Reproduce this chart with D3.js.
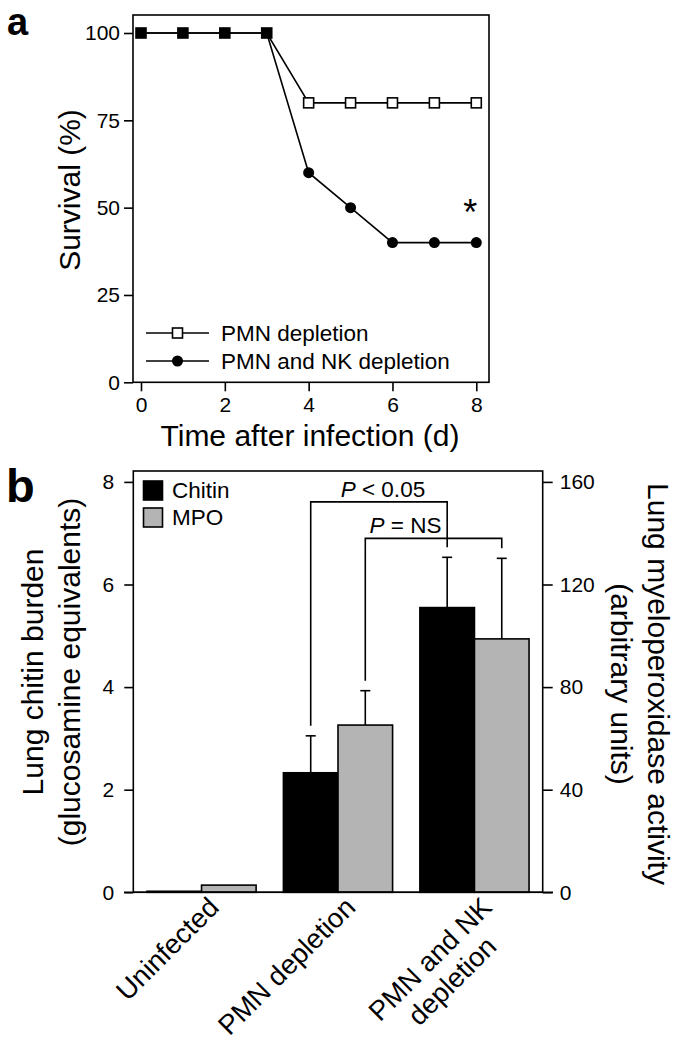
<!DOCTYPE html>
<html><head><meta charset="utf-8">
<script src="https://cdn.jsdelivr.net/npm/d3@7"></script>
<style>
body{margin:0;background:#fff;}
svg{display:block;font-family:"Liberation Sans",Arial,sans-serif;}
</style></head>
<body><svg id="c" width="700" height="1049"></svg>
<script>
// ---- Panel a data ----
const days = [0,1,2,3,4,5,6,7,8];
const pmnSurvival = [100,100,100,100,80,80,80,80,80];
const pmnNkSurvival = [100,100,100,100,60,50,40,40,40];
const survivalTicks = [0,25,50,75,100];
const dayTicks = [0,2,4,6,8];
const seriesA = ["PMN depletion","PMN and NK depletion"];

// ---- Panel b data ----
const groups = ["Uninfected","PMN depletion","PMN and NK\ndepletion"];
const measures = ["Chitin","MPO"];
const chitin = [0.02,2.33,5.55];
const chitinErr = [0,0.72,0.98];
const mpo = [2.8,65.2,98.8];
const mpoErr = [0,13.4,31.4];
const chitinTicks = [0,2,4,6,8];
const mpoTicks = [0,40,80,120,160];

const svg = d3.select("#c");
const SW = 1.6;
const TICKFS = 21, TITLEFS = 30, LEGFS = 22.5, CATFS = 27.5;

// ================= Panel a =================
const xa = d3.scaleLinear().domain([0,8]).range([141,476.3]);
const ya = d3.scaleLinear().domain([0,100]).range([382.3,33]);
const ga = svg.append("g");

ga.append("rect").attr("x",133).attr("y",15).attr("width",356).attr("height",382.3-15)
  .attr("fill","none").attr("stroke","#000").attr("stroke-width",SW);

const ayA = ga.append("g").attr("transform","translate(133,0)")
  .call(d3.axisLeft(ya).tickValues(survivalTicks).tickSize(9).tickPadding(4));
const axA = ga.append("g").attr("transform","translate(0,382.3)")
  .call(d3.axisBottom(xa).tickValues(dayTicks).tickSize(9).tickPadding(6));
[ayA,axA].forEach(a=>{
  a.select(".domain").remove();
  a.selectAll("line").attr("stroke","#000").attr("stroke-width",SW);
  a.selectAll("text").attr("font-size",TICKFS).attr("fill","#000").attr("font-family","Liberation Sans, Arial, sans-serif");
});

const line = d3.line().x((d,i)=>xa(days[i])).y(d=>ya(d));
ga.append("path").datum(pmnSurvival).attr("d",line).attr("fill","none").attr("stroke","#000").attr("stroke-width",SW);
ga.append("path").datum(pmnNkSurvival).attr("d",line).attr("fill","none").attr("stroke","#000").attr("stroke-width",SW);

const sq = 10;
ga.selectAll("rect.sq").data(pmnSurvival).join("rect").attr("class","sq")
  .attr("x",(d,i)=>xa(days[i])-sq/2).attr("y",d=>ya(d)-sq/2)
  .attr("width",sq).attr("height",sq)
  .attr("fill",(d,i)=> d===pmnNkSurvival[i] ? "#000" : "#fff")
  .attr("stroke","#000").attr("stroke-width",SW);
ga.selectAll("circle.ci").data(pmnNkSurvival).join("circle").attr("class","ci")
  .attr("cx",(d,i)=>xa(days[i])).attr("cy",d=>ya(d)).attr("r",5.5).attr("fill","#000");
ga.selectAll("circle.ci").filter((d,i)=>d===pmnSurvival[i]).remove();

// asterisk
ga.append("text").attr("x",xa(8)-6).attr("y",ya(pmnNkSurvival[8])-18)
  .attr("text-anchor","middle").attr("font-size",36).text("*");

// legend a
seriesA.forEach((s,i)=>{
  const y = 333 + i*28;
  ga.append("line").attr("x1",146).attr("x2",209).attr("y1",y).attr("y2",y).attr("stroke","#000").attr("stroke-width",SW);
  if(i===0){
    ga.append("rect").attr("x",177.5-sq/2).attr("y",y-sq/2).attr("width",sq).attr("height",sq)
      .attr("fill","#fff").attr("stroke","#000").attr("stroke-width",SW);
  } else {
    ga.append("circle").attr("cx",177.5).attr("cy",y).attr("r",5.5).attr("fill","#000");
  }
  ga.append("text").attr("x",221).attr("y",y).attr("dy","0.36em").attr("font-size",LEGFS).text(s);
});

// axis titles a
ga.append("text").attr("x",310).attr("y",446).attr("text-anchor","middle").attr("font-size",TITLEFS).text("Time after infection (d)");
ga.append("text").attr("transform","translate(80,190) rotate(-90)").attr("text-anchor","middle").attr("font-size",TITLEFS).text("Survival (%)");

// panel label a
svg.append("text").attr("x",7).attr("y",35).attr("font-size",38).attr("font-weight","bold")
  .attr("font-family","Liberation Sans, Arial, sans-serif").text("a");

// ================= Panel b =================
const gb = svg.append("g");
const yb = d3.scaleLinear().domain([0,8]).range([892.3,481.9]);
const yr = d3.scaleLinear().domain([0,160]).range([892.3,481.9]);
const xb = d3.scaleBand().domain(groups).range([133.3,542.7]).paddingInner(0.2).paddingOuter(0.1);
const xs = d3.scaleBand().domain(measures).range([0,xb.bandwidth()]);
const fills = {Chitin:"#000",MPO:"#b4b4b4"};

// bars
const barData = [];
groups.forEach((g,i)=>{
  barData.push({g,m:"Chitin",v:yb(chitin[i]),e:yb(chitin[i]+chitinErr[i]),err:chitinErr[i]});
  barData.push({g,m:"MPO",v:yr(mpo[i]),e:yr(mpo[i]+mpoErr[i]),err:mpoErr[i]});
});
gb.selectAll("rect.bar").data(barData).join("rect").attr("class","bar")
  .attr("x",d=>xb(d.g)+xs(d.m)).attr("width",xs.bandwidth())
  .attr("y",d=>d.v).attr("height",d=>892.3-d.v)
  .attr("fill",d=>fills[d.m]).attr("stroke","#000").attr("stroke-width",SW);
// error bars
barData.filter(d=>d.err>0).forEach(d=>{
  const cx = xb(d.g)+xs(d.m)+xs.bandwidth()/2;
  gb.append("line").attr("x1",cx).attr("x2",cx).attr("y1",d.v).attr("y2",d.e).attr("stroke","#000").attr("stroke-width",SW);
  gb.append("line").attr("x1",cx-5).attr("x2",cx+5).attr("y1",d.e).attr("y2",d.e).attr("stroke","#000").attr("stroke-width",SW);
});

// frame
gb.append("rect").attr("x",133.3).attr("y",471).attr("width",542.7-133.3).attr("height",892.3-471)
  .attr("fill","none").attr("stroke","#000").attr("stroke-width",SW);
gb.append("line").attr("x1",124).attr("x2",553).attr("y1",892.3).attr("y2",892.3).attr("stroke","#000").attr("stroke-width",SW);

const ayB = gb.append("g").attr("transform","translate(133.3,0)")
  .call(d3.axisLeft(yb).tickValues(chitinTicks).tickSize(9).tickPadding(10));
const ayR = gb.append("g").attr("transform","translate(542.7,0)")
  .call(d3.axisRight(yr).tickValues(mpoTicks).tickSize(10).tickPadding(7));
[ayB,ayR].forEach(a=>{
  a.select(".domain").remove();
  a.selectAll("line").attr("stroke","#000").attr("stroke-width",SW);
  a.selectAll("text").attr("font-size",TICKFS).attr("fill","#000").attr("font-family","Liberation Sans, Arial, sans-serif");
});

// significance brackets
function bracket(i1,m1,i2,m2,level,label,labelX){
  const b1 = barData.find(d=>d.g===groups[i1]&&d.m===m1);
  const b2 = barData.find(d=>d.g===groups[i2]&&d.m===m2);
  const x1 = xb(b1.g)+xs(b1.m)+xs.bandwidth()/2;
  const x2 = xb(b2.g)+xs(b2.m)+xs.bandwidth()/2;
  const y = yb(level);
  gb.append("path").attr("d",`M${x1},${b1.e-10}V${y}H${x2}V${b2.e-10}`)
    .attr("fill","none").attr("stroke","#000").attr("stroke-width",SW);
  const t = gb.append("text").attr("x",labelX(x1,x2)).attr("y",y-5).attr("text-anchor","middle").attr("font-size",LEGFS);
  t.append("tspan").attr("font-style","italic").text("P");
  t.append("tspan").text(label);
}
bracket(1,"Chitin",2,"Chitin",7.61," < 0.05",(a,b)=>(a+b)/2+4);
bracket(1,"MPO",2,"MPO",6.90," = NS",(a,b)=>(a+b)/2-28);

// legend b
measures.forEach((m,i)=>{
  const y = 481 + i*27;
  gb.append("rect").attr("x",143.5).attr("y",y).attr("width",19).attr("height",19)
    .attr("fill",fills[m]).attr("stroke","#000").attr("stroke-width",SW);
  gb.append("text").attr("x",172).attr("y",y+16.5).attr("font-size",LEGFS).text(m);
});

// axis titles b
const lt = gb.append("text").attr("transform","translate(0,672) rotate(-90)").attr("text-anchor","middle").attr("font-size",TITLEFS);
lt.append("tspan").attr("x",0).attr("y",43).text("Lung chitin burden");
lt.append("tspan").attr("x",0).attr("y",80).text("(glucosamine equivalents)");
const rt = gb.append("text").attr("transform","translate(0,684) rotate(90)").attr("text-anchor","middle").attr("font-size",TITLEFS);
rt.append("tspan").attr("x",0).attr("y",-648).text("Lung myeloperoxidase activity");
rt.append("tspan").attr("x",0).attr("y",-611).text("(arbitrary units)");

// category labels
groups.forEach(g=>{
  const lines = g.split("\n");
  const cx = xb(g)+xb.bandwidth()/2;
  const t = gb.append("text").attr("transform",`translate(${cx+19},909) rotate(-45)`)
    .attr("text-anchor","middle").attr("font-size",CATFS);
  const spans = lines.map((l,k)=>t.append("tspan").attr("y",k*31).text(l));
  const maxLen = d3.max(spans,s=>s.node().getComputedTextLength());
  spans.forEach(s=>s.attr("x",-maxLen/2));
});

// panel label b
svg.append("text").attr("x",6).attr("y",502).attr("font-size",47).attr("font-weight","bold")
  .attr("font-family","Liberation Sans, Arial, sans-serif").text("b");
</script></body></html>
